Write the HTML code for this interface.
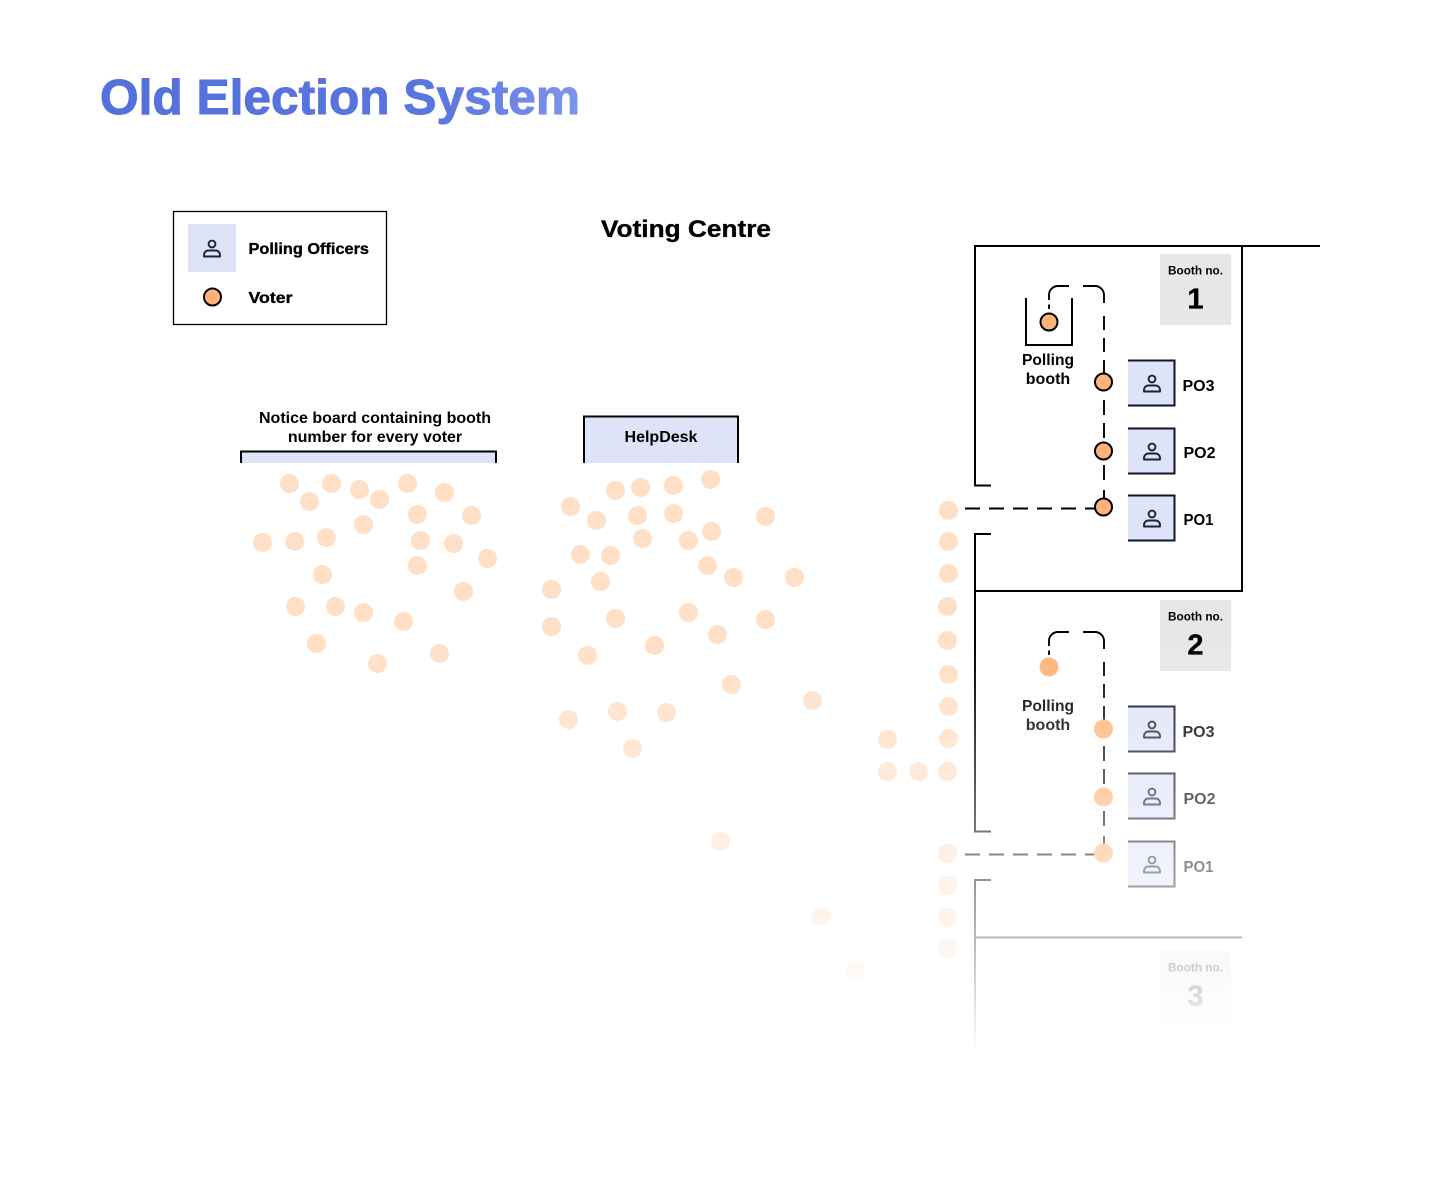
<!DOCTYPE html>
<html lang="en">
<head>
<meta charset="utf-8">
<title>Old Election System</title>
<style>
html,body{margin:0;padding:0;background:#fff}
svg{display:block}
text{font-family:"Liberation Sans",sans-serif;font-weight:700;fill:#000}
.h{stroke:#000;stroke-width:.35px}
</style>
</head>
<body>
<svg width="1440" height="1179" viewBox="0 0 1440 1179" xmlns="http://www.w3.org/2000/svg">
<defs>
<linearGradient id="tg" gradientUnits="userSpaceOnUse" x1="100" y1="0" x2="580" y2="0">
<stop offset="0" stop-color="#5470DB"/><stop offset=".7" stop-color="#5A75DD"/><stop offset="1" stop-color="#7F95EC"/>
</linearGradient>
<linearGradient id="fade" x1="0" y1="0" x2="0" y2="1">
<stop offset="0" stop-color="#fff" stop-opacity="0"/><stop offset="1" stop-color="#fff" stop-opacity="1"/>
</linearGradient>
<g id="person" fill="none" stroke="#1D2238" stroke-width="1.9" stroke-linejoin="round">
<circle cx="0" cy="-5" r="3.4"/>
<path d="M-8 7.500v-1.500a4.500 4.500 0 0 1 4.500-4.500h7a4.500 4.500 0 0 1 4.500 4.500v1.500z"/>
</g>
<g id="po">
<rect x="0" y="0" width="47" height="46" fill="#DFE3F8"/>
<path d="M0 .5H46.5V45.5H0" fill="none" stroke="#12152A" stroke-width="2"/>
<use href="#person" x="24" y="24"/>
</g>
<g id="route" fill="none" stroke="#000" stroke-width="1.9">
<path d="M1049 309V304.500"/>
<path d="M1049 300V295a9 9 0 0 1 9-9H1069"/>
<path d="M1083 286H1095a9 9 0 0 1 9 9V303"/>
<path d="M1104 316V330M1104 338V352M1104 360V374M1104 400V415M1104 423V438M1104 465V480M1104 490V500"/>
<path d="M965 508.500H1103" stroke-dasharray="15 9"/>
</g>
</defs>

<text x="100" y="114" font-size="49" textLength="480" lengthAdjust="spacingAndGlyphs" style="fill:url(#tg);stroke:url(#tg);stroke-width:1px">Old Election System</text>
<text class="h" x="601" y="237" font-size="24.500" textLength="170" lengthAdjust="spacingAndGlyphs">Voting Centre</text>

<!-- legend -->
<rect x="173.500" y="211.500" width="213" height="113" fill="#fff" stroke="#000" stroke-width="1.3"/>
<rect x="188" y="224" width="48" height="48" fill="#DFE3F8"/>
<use href="#person" x="212" y="249"/>
<text class="h" x="248.500" y="254" font-size="16" textLength="120.500" lengthAdjust="spacingAndGlyphs">Polling Officers</text>
<circle cx="212.500" cy="297" r="8.500" fill="#FFB37A" stroke="#000" stroke-width="2"/>
<text class="h" x="248.500" y="303" font-size="16" textLength="44" lengthAdjust="spacingAndGlyphs">Voter</text>

<!-- notice board / help desk -->
<text x="375" y="423" font-size="16" text-anchor="middle">Notice board containing booth</text>
<text x="375" y="442" font-size="16" text-anchor="middle">number for every voter</text>
<rect x="241" y="451" width="255" height="12" fill="#DFE3F8"/>
<path d="M241 463V451.500H496V463" fill="none" stroke="#000" stroke-width="2"/>
<rect x="584" y="416" width="154" height="47" fill="#DFE3F8"/>
<path d="M584 463V416.500H738V463" fill="none" stroke="#000" stroke-width="2"/>
<text x="661" y="442" font-size="16" text-anchor="middle">HelpDesk</text>

<!-- crowd -->
<g fill="#FFDFC6" transform="translate(.5 .5)">
<circle cx="289" cy="483" r="9.500"/><circle cx="331" cy="483" r="9.500"/><circle cx="359" cy="489" r="9.500"/><circle cx="379" cy="499" r="9.500"/><circle cx="309" cy="501" r="9.500"/><circle cx="407" cy="483" r="9.500"/><circle cx="444" cy="492" r="9.500"/><circle cx="417" cy="514" r="9.500"/><circle cx="471" cy="515" r="9.500"/><circle cx="363" cy="524" r="9.500"/><circle cx="262" cy="542" r="9.500"/><circle cx="294" cy="541" r="9.500"/><circle cx="326" cy="537" r="9.500"/><circle cx="420" cy="540" r="9.500"/><circle cx="453" cy="543" r="9.500"/><circle cx="487" cy="558" r="9.500"/><circle cx="417" cy="565" r="9.500"/><circle cx="322" cy="574" r="9.500"/><circle cx="463" cy="591" r="9.500"/><circle cx="295" cy="606" r="9.500"/><circle cx="335" cy="606" r="9.500"/><circle cx="363" cy="612" r="9.500"/><circle cx="403" cy="621" r="9.500"/><circle cx="316" cy="643" r="9.500"/><circle cx="439" cy="653" r="9.500"/><circle cx="377" cy="663" r="9.500"/>
<circle cx="710" cy="479" r="9.500"/><circle cx="673" cy="485" r="9.500"/><circle cx="640" cy="487" r="9.500"/><circle cx="615" cy="490" r="9.500"/><circle cx="570" cy="506" r="9.500"/><circle cx="596" cy="520" r="9.500"/><circle cx="637" cy="515" r="9.500"/><circle cx="673" cy="513" r="9.500"/><circle cx="765" cy="516" r="9.500"/><circle cx="711" cy="531" r="9.500"/><circle cx="688" cy="540" r="9.500"/><circle cx="642" cy="538" r="9.500"/><circle cx="580" cy="554" r="9.500"/><circle cx="610" cy="555" r="9.500"/><circle cx="707" cy="565" r="9.500"/><circle cx="733" cy="577" r="9.500"/><circle cx="794" cy="577" r="9.500"/><circle cx="600" cy="581" r="9.500"/><circle cx="551" cy="589" r="9.500"/><circle cx="688" cy="612" r="9.500"/><circle cx="615" cy="618" r="9.500"/><circle cx="765" cy="619" r="9.500"/><circle cx="551" cy="626" r="9.500"/><circle cx="717" cy="634" r="9.500"/><circle cx="654" cy="645" r="9.500"/><circle cx="587" cy="655" r="9.500"/><circle cx="731" cy="684" r="9.500"/><circle cx="812" cy="700" r="9.500"/><circle cx="617" cy="711" r="9.500"/><circle cx="666" cy="712" r="9.500"/><circle cx="568" cy="719" r="9.500"/><circle cx="632" cy="748" r="9.500"/><circle cx="887" cy="739" r="9.500"/><circle cx="887" cy="771" r="9.500"/><circle cx="918" cy="771" r="9.500"/>
<circle cx="948" cy="510" r="9.500"/><circle cx="948" cy="541" r="9.500"/><circle cx="948" cy="573" r="9.500"/><circle cx="947" cy="606" r="9.500"/><circle cx="947" cy="640" r="9.500"/><circle cx="948" cy="674" r="9.500"/><circle cx="948" cy="706" r="9.500"/><circle cx="948" cy="738" r="9.500"/><circle cx="947" cy="771" r="9.500"/><circle cx="947" cy="853" r="9.500"/><circle cx="947" cy="885" r="9.500"/><circle cx="947" cy="917" r="9.500"/><circle cx="947" cy="948" r="9.500"/><circle cx="720" cy="841" r="9.500"/><circle cx="821" cy="916" r="9.500"/><circle cx="855" cy="970" r="9.500"/>
</g>

<!-- walls -->
<g fill="none" stroke="#000" stroke-width="2">
<path d="M991 485.500H975V246H1320"/>
<path d="M1242 246V591H975"/>
<path d="M991 534H975V831.500H991"/>
<path d="M991 880H975V1050"/>
<path d="M975 937.500H1242"/>
</g>

<!-- booth 1 -->
<rect x="1160" y="254" width="71" height="71" fill="#E7E7E7"/>
<text x="1168" y="274.500" font-size="12" textLength="55" lengthAdjust="spacingAndGlyphs">Booth no.</text>
<text class="h" x="1195.500" y="308.500" font-size="29" text-anchor="middle">1</text>
<path d="M1026 298V345H1072V298" fill="none" stroke="#000" stroke-width="2"/>
<use href="#route"/>
<g fill="#FFB37A" stroke="#000" stroke-width="2">
<circle cx="1049" cy="322" r="8.500"/><circle cx="1103.500" cy="382" r="8.500"/><circle cx="1103.500" cy="451" r="8.500"/><circle cx="1103.500" cy="507" r="8.500"/>
</g>
<text x="1022" y="365" font-size="16" textLength="52" lengthAdjust="spacingAndGlyphs">Polling</text>
<text x="1048" y="384" font-size="16" text-anchor="middle">booth</text>
<use href="#po" x="1128" y="360"/><use href="#po" x="1128" y="428"/><use href="#po" x="1128" y="495"/>
<text x="1182.500" y="391" font-size="16">PO3</text>
<text x="1183.500" y="458" font-size="16">PO2</text>
<text x="1183.500" y="525" font-size="16" textLength="30" lengthAdjust="spacingAndGlyphs">PO1</text>

<!-- booth 2 -->
<rect x="1160" y="600" width="71" height="71" fill="#E7E7E7"/>
<text x="1168" y="620.500" font-size="12" textLength="55" lengthAdjust="spacingAndGlyphs">Booth no.</text>
<text class="h" x="1195.500" y="654.500" font-size="29" text-anchor="middle">2</text>
<use href="#route" y="346"/>
<g fill="#FFB37A">
<circle cx="1049" cy="667" r="9.500"/><circle cx="1103.500" cy="729" r="9.500"/><circle cx="1103.500" cy="797" r="9.500"/><circle cx="1103.500" cy="853" r="9.500"/>
</g>
<text x="1022" y="711" font-size="16" textLength="52" lengthAdjust="spacingAndGlyphs">Polling</text>
<text x="1048" y="730" font-size="16" text-anchor="middle">booth</text>
<use href="#po" x="1128" y="706"/><use href="#po" x="1128" y="773"/><use href="#po" x="1128" y="841"/>
<text x="1182.500" y="737" font-size="16">PO3</text>
<text x="1183.500" y="804" font-size="16">PO2</text>
<text x="1183.500" y="872" font-size="16" textLength="30" lengthAdjust="spacingAndGlyphs">PO1</text>

<!-- booth 3 -->
<rect x="1160" y="951" width="71" height="71" fill="#E7E7E7"/>
<text x="1168" y="971.500" font-size="12" textLength="55" lengthAdjust="spacingAndGlyphs">Booth no.</text>
<text class="h" x="1195.500" y="1005.500" font-size="29" text-anchor="middle">3</text>

<!-- fade-out overlay -->
<rect x="0" y="640" width="1440" height="410" fill="url(#fade)"/>
<rect x="0" y="1050" width="1440" height="129" fill="#fff"/>
</svg>
</body>
</html>
